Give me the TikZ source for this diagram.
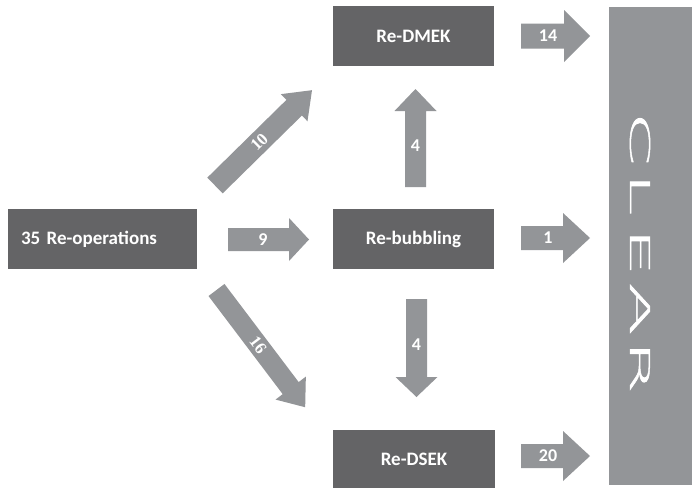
\documentclass[tikz,border=0pt]{standalone}
\usepackage{fontspec}
\setmainfont{Carlito}
\newfontfamily\numserif{Liberation Serif}
\newfontfamily\clearfont[FakeBold=1.6]{DejaVuSans-ExtraLight.ttf}
\definecolor{boxgray}{HTML}{646466}
\definecolor{arrgray}{HTML}{939598}
\tikzset{
  stagebox/.style={fill=boxgray,text=white,inner sep=0pt,
                   minimum width=161pt,minimum height=60pt,
                   font=\fontsize{19}{22}\selectfont\bfseries},
  blockarr/.style={fill=arrgray},
  countlbl/.style={text=white,inner sep=0pt,font=\fontsize{18}{20}\selectfont\bfseries},
  difflbl/.style={text=white,inner sep=0pt,font=\numserif\fontsize{17}{18}\selectfont\bfseries},
  clearbar/.style={fill=arrgray,inner sep=0pt,minimum width=83pt,minimum height=478pt},
  clearltr/.style={text=white,inner sep=0pt,rotate=-90,xscale=2.85,
                   font=\clearfont\fontsize{27}{27}\selectfont}
}

\begin{document}
\begin{tikzpicture}[x=1pt,y=-1pt]
  \useasboundingbox[fill=white] (0,0) rectangle (699,490);

  % stages
  \node[stagebox,minimum width=189pt,text width=163pt,align=left] (ops) at (102.5,239) {35 Re-operations};
  \node[stagebox] (dmek) at (413.5,36) {Re-DMEK};
  \node[stagebox] (bub) at (413.5,239) {Re-bubbling};
  \node[stagebox,minimum width=162pt,minimum height=58pt] (dsek) at (414,459) {Re-DSEK};

  \node[clearbar] (clear) at (650.5,246) {};
  \foreach \c/\yy in {C/139,L/194,E/252,A/309,R/367} {
    \node[clearltr] (ltr\c) at (640,\yy) {\c};
  }

  % straight arrows: name/x/y/angle/length/shaft/head width/head length/label pos/label
  \foreach \n/\x/\y/\a/\l/\w/\hw/\hl/\p/\t in {
      nine/228/239.5/0/81/23/43/20/35/9,
      fourteen/521/36/0/69/25/52/26/27/14,
      one/521/238/0/69/24/50/27/27/1,
      twenty/521/456/0/69/24/50/27/27/20,
      up/415.5/187/90/98/21/42/22/41/4,
      down/416.5/299/-90/98/21/42/20/46/4} {
    \begin{scope}[shift={(\x,\y)},rotate=\a]
      \fill[blockarr] (0,-\w/2) -- (\l-\hl,-\w/2) -- (\l-\hl,-\hw/2) -- (\l,0)
        -- (\l-\hl,\hw/2) -- (\l-\hl,\w/2) -- (0,\w/2) -- cycle;
      \node[countlbl] (\n) at (\p,0) {\t};
    \end{scope}
  }

  % diagonal arrows
  \foreach \n/\x/\y/\a/\l/\w/\hw/\hl/\p/\t in {
      ten/215/185.5/44.5/136/22/38/25/62/10,
      sixteen/216.5/290/-52.9/147/20/38/24/69/16} {
    \begin{scope}[shift={(\x,\y)},rotate=\a]
      \fill[blockarr] (0,-\w/2) -- (\l-\hl,-\w/2) -- (\l-\hl,-\hw/2) -- (\l,0)
        -- (\l-\hl,\hw/2) -- (\l-\hl,\w/2) -- (0,\w/2) -- cycle;
      \node[difflbl,rotate=\a] (\n) at (\p,0) {\t};
    \end{scope}
  }
\end{tikzpicture}
\end{document}
